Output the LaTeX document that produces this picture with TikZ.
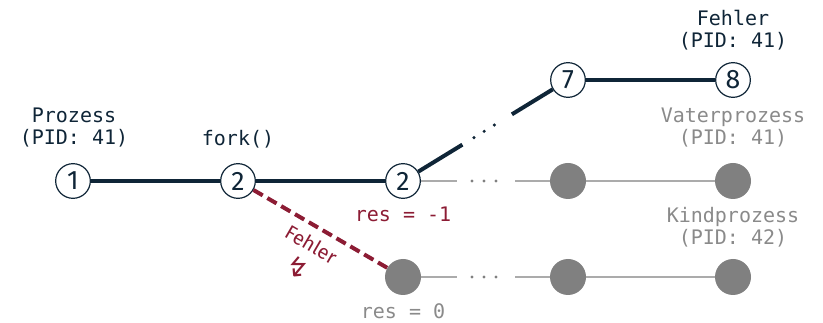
\documentclass[tikz,border=0pt]{standalone}
\usepackage{fontspec}
\setmainfont{Fira Sans}
\setmonofont{DejaVu Sans Mono}
\newfontfamily\symbfont{DejaVu Sans}
\usepackage{tikz}
\usetikzlibrary{calc}

\definecolor{navy}{HTML}{0F2537}
\definecolor{fehlerrot}{HTML}{8C1C34}
\definecolor{grauline}{HTML}{ABABAB}
\definecolor{grautext}{HTML}{8A8A8A}
\definecolor{graukreis}{HTML}{808080}

\tikzset{
  schritt/.style={circle, draw=navy, line width=0.9pt, fill=white, text=navy,
    minimum size=26pt, inner sep=0pt, font=\fontsize{20}{20}\selectfont},
  leer/.style={circle, fill=graukreis, minimum size=27pt, inner sep=0pt},
  beschr/.style={font=\ttfamily\fontsize{15}{16.5}\selectfont, align=center, text=navy},
  lauf/.style={draw=navy, line width=3pt},
  nebenlauf/.style={draw=grauline, line width=1.4pt},
  punkte/.style={line cap=round, line width=2.6pt, dash pattern=on 0pt off 9pt},
  fehlerpfad/.style={draw=fehlerrot, line width=3pt, dash pattern=on 8pt off 4pt}
}

\begin{document}
\begin{tikzpicture}[x=0.75pt, y=-0.75pt]
    \useasboundingbox (0,0) rectangle (823,323);

    % Hauptprozess
    \node[schritt] (p1) at (73,181) {1};
    \node[schritt] (p2) at (238,181) {2};
    \node[schritt] (p3) at (403,181) {2};
    \node[schritt] (p7) at (568,80) {7};
    \node[schritt] (p8) at (733,80) {8};
    \node[beschr] at (74,128) {Prozess\\(PID: 41)};
    \node[beschr] at (238,139) {fork()};
    \node[beschr] at (733,30) {Fehler\\(PID: 41)};
    \node[beschr, text=fehlerrot] at (403,214) {res = -1};

    % Vaterprozess (grau)
    \node[leer] (v1) at (568,181) {};
    \node[leer] (v2) at (733,181) {};
    \node[beschr, text=grautext] at (733,128) {Vaterprozess\\(PID: 41)};

    % Kindprozess (grau)
    \node[leer] (k0) at (403,277) {};
    \node[leer] (k1) at (568,277) {};
    \node[leer] (k2) at (733,277) {};
    \node[beschr, text=grautext] at (733,227) {Kindprozess\\(PID: 42)};
    \node[beschr, text=grautext] at (403,311) {res = 0};

    % Linien
    \draw[lauf] (p1) -- (p2);
    \draw[lauf] (p2) -- (p3);
    \draw[lauf] (p3) -- ($(p3)!0.36!(p7)$);
    \draw[navy, punkte] ($(p3)!0.43!(p7)$) -- ($(p3)!0.58!(p7)$);
    \draw[lauf] ($(p3)!0.66!(p7)$) -- (p7);
    \draw[lauf] (p7) -- (p8);

    \draw[nebenlauf] (p3) -- (457,181);
    \draw[graukreis, punkte] (472,181) -- (500,181);
    \draw[nebenlauf] (515,181) -- (v1);
    \draw[nebenlauf] (v1) -- (v2);

    \draw[nebenlauf] (k0) -- (457,277);
    \draw[graukreis, punkte] (472,277) -- (500,277);
    \draw[nebenlauf] (515,277) -- (k1);
    \draw[nebenlauf] (k1) -- (k2);

    \draw[fehlerpfad] (p2) -- (k0)
      node[pos=0.5, sloped, below=3pt, align=center, text=fehlerrot,
        font=\fontsize{15}{20}\selectfont] {Fehler\\[2pt]{\symbfont\fontsize{20}{20}\selectfont ↯}};
\end{tikzpicture}
\end{document}
